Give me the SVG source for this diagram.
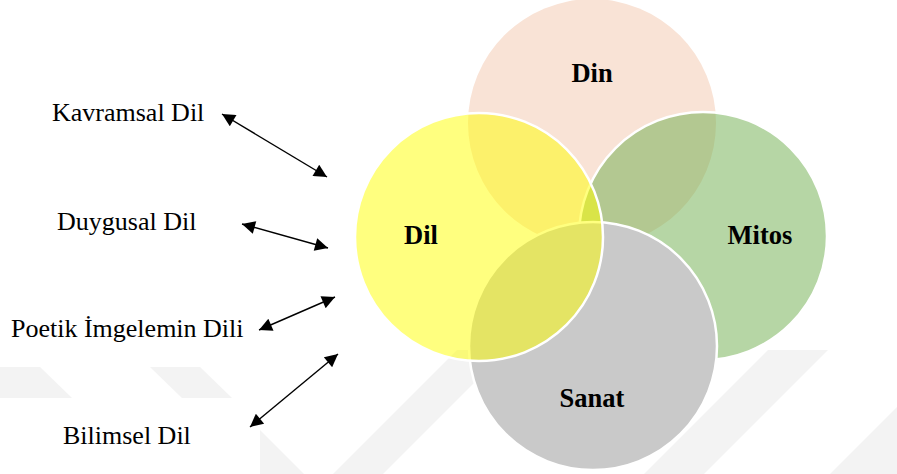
<svg xmlns="http://www.w3.org/2000/svg" width="897" height="474" viewBox="0 0 897 474">
<style>
.lbl{font-family:"Liberation Serif","Times New Roman",serif;font-size:26px;fill:#000}
.bold{font-family:"Liberation Serif","Times New Roman",serif;font-size:26.5px;font-weight:bold;fill:#000;text-anchor:middle}
.wm{fill:#f3f3f3}
.ring{stroke:#fff;stroke-width:2.5}
.conn{stroke:#000;stroke-width:1.4;fill:none;marker-start:url(#ah);marker-end:url(#ah)}
</style>
<defs>
<marker id="ah" viewBox="0 0 10 10" refX="10" refY="5" markerUnits="userSpaceOnUse" markerWidth="16" markerHeight="13" orient="auto-start-reverse">
<path d="M0,0 L10,5 L0,10 z" fill="#000"/>
</marker>
</defs>
<rect width="897" height="474" fill="#fff"/>
<g id="watermark">
<polygon class="wm" points="0,367 40,367 72,398 0,398"/>
<polygon class="wm" points="150,367 200,367 232,398 182,398"/>
<polygon class="wm" points="260,430 304,474 260,474"/>
<polygon class="wm" points="333,474 383,474 507,350 457,350"/>
<polygon class="wm" points="644,474 704,474 828,350 768,350"/>
<polygon class="wm" points="830,474 897,474 897,407"/>
</g>
<g id="din"><circle cx="592" cy="123" r="124" fill="#f9e3d6"/></g>
<g id="mitos"><circle class="ring" cx="703" cy="236" r="124" fill="#6dad4b" fill-opacity="0.5"/></g>
<g id="sanat"><circle class="ring" cx="593" cy="346" r="124" fill="#c9c9c9"/></g>
<g id="dil"><circle class="ring" cx="479" cy="237" r="124" fill="#ffff00" fill-opacity="0.5"/></g>
<g id="labels-circles">
<text class="bold" x="592" y="82">Din</text>
<text class="bold" x="421" y="244">Dil</text>
<text class="bold" x="760" y="244">Mitos</text>
<text class="bold" x="592" y="407">Sanat</text>
</g>
<g id="kavramsal"><text class="lbl" x="52" y="121">Kavramsal Dil</text></g>
<g id="duygusal"><text class="lbl" x="57" y="230">Duygusal Dil</text></g>
<g id="poetik"><text class="lbl" x="11" y="337">Poetik İmgelemin Dili</text></g>
<g id="bilimsel"><text class="lbl" x="63" y="444">Bilimsel Dil</text></g>
<g id="connectors">
<line class="conn" x1="222" y1="114" x2="327" y2="177"/>
<line class="conn" x1="242" y1="224" x2="328" y2="248"/>
<line class="conn" x1="259" y1="330" x2="335" y2="297"/>
<line class="conn" x1="250" y1="427" x2="338" y2="354"/>
</g>
</svg>
